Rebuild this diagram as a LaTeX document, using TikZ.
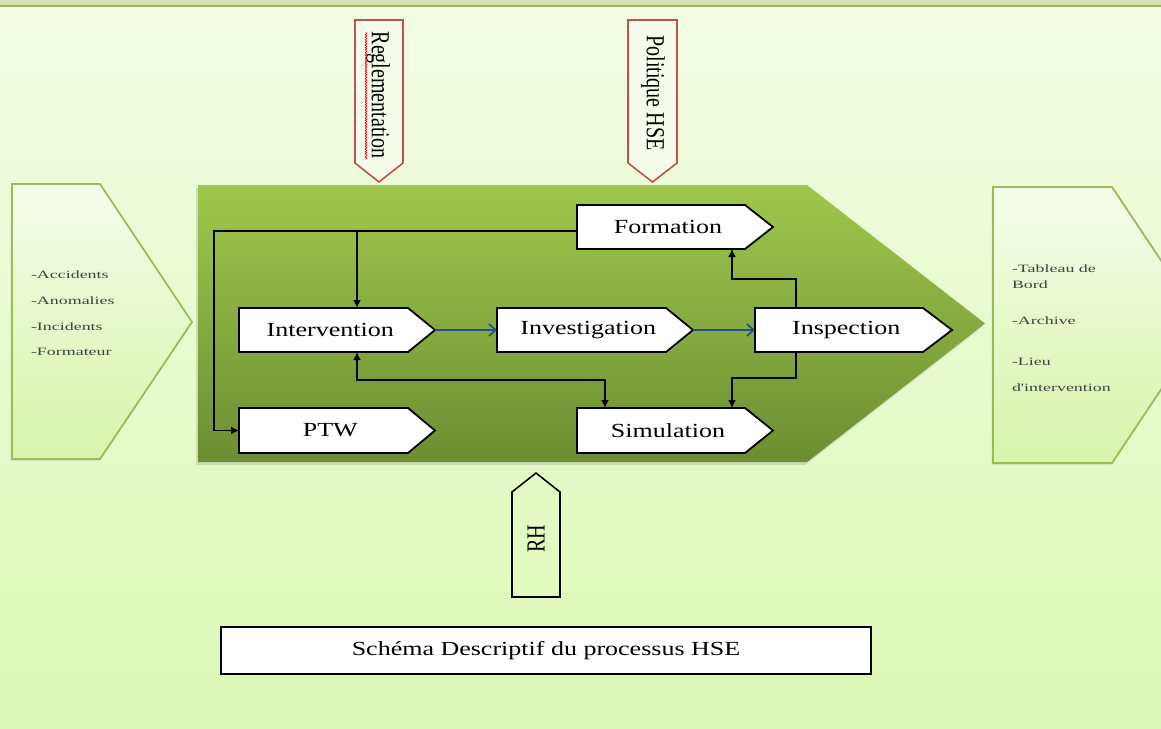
\documentclass[tikz,border=0pt]{standalone}
\usepackage{fontspec}
\setmainfont{Liberation Serif}
\newfontfamily\labelfont[FakeStretch=1.3]{Liberation Serif}
\newfontfamily\notefont[FakeStretch=1.6]{Liberation Serif}
\usetikzlibrary{arrows.meta,shadows,calc,decorations.pathmorphing}

\definecolor{bgtop}{HTML}{F3FCE4}
\definecolor{bgbot}{HTML}{DEF8B6}
\definecolor{bandgrey}{HTML}{D5E0B6}
\definecolor{olive}{HTML}{9BBB59}
\definecolor{maintop}{HTML}{9FC84C}
\definecolor{mainbot}{HTML}{6E8D33}
\definecolor{sidetop}{HTML}{F5FCEB}
\definecolor{sidebot}{HTML}{D9F4AA}
\definecolor{redline}{HTML}{C0504D}
\definecolor{flowblue}{HTML}{1F4E8C}
\definecolor{notegrey}{HTML}{404040}

\tikzset{
  stepshape/.style={draw=black, line width=1.8pt, fill=white},
  steplabel/.style={inner sep=0pt, outer sep=0pt, font=\labelfont\fontsize{20}{24}\selectfont},
  sidechevron/.style={draw=olive, line width=1.8pt, top color=sidetop, bottom color=sidebot,
    drop shadow={shadow xshift=-1.5pt, shadow yshift=-2pt, opacity=0.15}},
  notes/.style={inner sep=0pt, outer sep=0pt, align=left, anchor=north west, text=notegrey},
  sideinput/.style={draw=redline, line width=1.6pt, fill=sidetop},
  vlabel/.style={inner sep=0pt, font=\fontsize{20}{24}\selectfont},
  flow/.style={draw=black, line width=1.8pt, -{Latex[length=8pt,width=8pt]}},
  flowboth/.style={draw=black, line width=1.8pt, {Latex[length=8pt,width=8pt]}-{Latex[length=8pt,width=8pt]}},
  blueflow/.style={draw=flowblue, line width=1.6pt, -{Straight Barb[length=7pt,width=12pt,line width=1.6pt]}},
}

% tag-shaped process step: name, left, top, tip x, bottom, tip depth, text
\newcommand\stepbox[7]{%
  \path[stepshape] (#2,#3) -- ({#4-#6},#3) -- (#4,{(#3+#5)/2}) -- ({#4-#6},#5) -- (#2,#5) -- cycle;
  \node[steplabel, minimum width={(#4-#6/2-#2)*1pt}, minimum height={(#5-#3)*1pt}]
    (#1) at ({(#2+#4-#6/2)/2},{(#3+#5)/2}) {#7};
  \coordinate (#1-tip) at (#4,{(#3+#5)/2});
}

\begin{document}
\begin{tikzpicture}[x=1pt,y=-1pt]
  \useasboundingbox (0,0) rectangle (1161,728);
  \clip (0,0) rectangle (1161,728);

  % page background
  \fill[top color=bgtop, bottom color=bgbot] (0,0) rectangle (1161,728);
  \fill[bandgrey] (0,0) rectangle (1161,5);
  \draw[olive, line width=2pt] (0,6) -- (1161,6);

  % input and output chevrons
  \path[sidechevron] (12,184) -- (100,184) -- (192,322) -- (100,459) -- (12,459) -- cycle;
  \path[sidechevron] (993,187) -- (1112,187) -- (1204,325) -- (1112,463) -- (993,463) -- cycle;

  \node[notes, font=\notefont\fontsize{11.2}{25.7}\selectfont] (inputs) at (31,271)
    {-Accidents\\-Anomalies\\-Incidents\\-Formateur};
  \node[notes, font=\notefont\fontsize{11.2}{16}\selectfont] (outputs) at (1012,265)
    {-Tableau de\\Bord\\[20pt]-Archive\\[25pt]-Lieu\\[10pt]d'intervention};

  % main process arrow
  \path[top color=maintop, bottom color=mainbot,
        drop shadow={shadow xshift=-2pt, shadow yshift=-3pt, opacity=0.25}]
    (198,185) -- (807,185) -- (985,323.5) -- (807,462) -- (198,462) -- cycle;

  % regulatory inputs from above
  \path[sideinput] (355,20) -- (403,20) -- (403,163) -- (379,182) -- (355,163) -- cycle;
  \path[sideinput] (628,20) -- (677,20) -- (677,163) -- (652.5,182) -- (628,163) -- cycle;
  \node[vlabel, rotate=-90] (regl) at (378,95) {\scalebox{1}[1.3]{Reglementation}};
  \node[vlabel, rotate=-90] (hse) at (653,93) {\scalebox{1}[1.3]{Politique HSE}};
  \draw[red, line width=0.8pt, decorate,
        decoration={snake, amplitude=0.7pt, segment length=2.6pt}]
    ([yshift=-1pt]regl.south west) -- ([yshift=-1pt]regl.south east);

  % resource input from below
  \path[draw=black, line width=1.6pt] (512,597) -- (512,492) -- (536,473) -- (560,492) -- (560,597) -- cycle;
  \node[vlabel, rotate=90] (rh) at (536,539) {\scalebox{1}[1.3]{RH}};

  % process steps
  \stepbox{interv}{239}{308}{435}{352}{27}{Intervention}
  \stepbox{invest}{497}{308}{693}{352}{27}{Investigation}
  \stepbox{insp}{755}{308}{952}{352}{29}{Inspection}
  \stepbox{form}{577}{205}{773}{249}{28}{Formation}
  \stepbox{ptw}{239}{408}{435}{453}{27}{PTW}
  \stepbox{sim}{577}{408}{773}{453}{28}{Simulation}

  % connectors
  \coordinate (busL) at (214,231);
  \coordinate (busJ) at (357,231);
  \coordinate (busS) at (605,380);
  \coordinate (upI) at (796,279);
  \coordinate (upF) at (732,279);
  \coordinate (dnI) at (796,378);
  \coordinate (dnS) at (732,378);

  \draw[flow] ([yshift=-4pt]form.west) -- (busL) |- (ptw.west);
  \draw[flow] (busJ) -- (busJ |- interv.north);
  \draw[flowboth] (busJ |- interv.south) |- (busS) -- (busS |- sim.north);
  \draw[flow] (upI |- insp.north) -- (upI) -- (upF) -- (upF |- form.south);
  \draw[flow] (dnI |- insp.south) -- (dnI) -- (dnS) -- (dnS |- sim.north);
  \draw[blueflow] (interv-tip) -- (invest.west);
  \draw[blueflow] (invest-tip) -- (insp.west);

  % caption
  \node[draw=black, line width=1.8pt, fill=white, minimum width=650pt, minimum height=47pt,
        inner sep=0pt, font=\labelfont\fontsize{20}{24}\selectfont] (caption) at (546,650.5)
    {Schéma Descriptif du processus HSE};
\end{tikzpicture}
\end{document}
